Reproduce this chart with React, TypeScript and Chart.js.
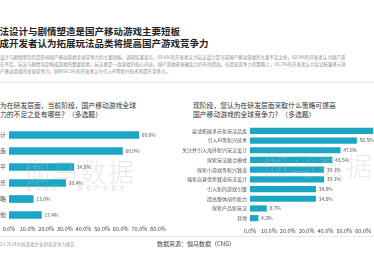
import React, { useEffect, useRef } from "react";
import { Chart, registerables } from "chart.js";

Chart.register(...registerables);

const FONT = "'Noto Sans CJK SC', 'Noto Sans', sans-serif";
const BAR_COLOR = "#1ba6c4";

const leftCategories = ["玩法设计", "剧情塑造", "技术水平", "音效音乐", "运营策略", "其他"];
const leftValues = [69.6, 60.9, 34.8, 30.4, 13.0, 17.4];

const rightCategories = [
  "尝试拓展多元化玩法品类",
  "引入AI等新兴技术",
  "关注并引入海外新兴玩法设计",
  "探索玩法融合模式",
  "探索小游戏等新兴赛道",
  "强化自身优势赛道玩法设计",
  "引入新的游戏引擎",
  "提高整体创作能力",
  "探索产品新玩法",
  "其他",
];
const rightValues = [65.2, 56.5, 47.8, 43.5, 39.1, 39.1, 34.8, 34.8, 8.7, 4.3];

const titleLines = [
  "玩法设计与剧情塑造是国产移动游戏主要短板",
  "六成开发者认为拓展玩法品类将提高国产游戏竞争力",
];
const paraLines = [
  "玩法设计与剧情塑造仍是影响国产移动游戏全球竞争力的主要短板。调研结果显示，69.6%的开发者认为玩法设计是当前国产移动游戏的主要不足之处，60.9%的开发者认为国产游",
  "戏存在不足。玩法与剧情均是构成游戏的重要因素，玩法更是一款游戏的核心内容，国产游戏研发硬实力仍有待提高。在提高竞争力的策略上，65.2%的开发者认为尝试拓展多元化",
  "高国产移动游戏的全球竞争力，同时56.5%的开发者认为引入AI等新兴技术将提升竞争力。",
];
const leftQuestion = ["您认为在研发层面，当前阶段，国产移动游戏全球", "竞争力的不足之处有哪些？（多选题）"];
const rightQuestion = ["现阶段，您认为在研发层面采取什么策略可提高", "国产移动游戏的全球竞争力？（多选题）"];

const valueLabelPlugin = {
  id: "valueLabels",
  afterDatasetsDraw(chart: any) {
    const ctx = chart.ctx;
    const meta = chart.getDatasetMeta(0);
    const data = chart.data.datasets[0].data;
    ctx.save();
    ctx.font = `5px ${FONT}`;
    ctx.fillStyle = "#555";
    ctx.textBaseline = "middle";
    ctx.textAlign = "left";
    meta.data.forEach((el: any, i: number) => {
      ctx.fillText(Number(data[i]).toFixed(1) + "%", el.x + 3, el.y);
    });
    ctx.restore();
  },
};

function makeConfig(
  labels: string[],
  values: number[],
  max: number,
  thickness: number,
  yWidth: number,
  xHeight: number,
  xPad: number,
  yFont: number,
  padRight: number
) {
  return {
    type: "bar" as const,
    data: {
      labels,
      datasets: [{ data: values, backgroundColor: BAR_COLOR, barThickness: thickness }],
    },
    options: {
      indexAxis: "y" as const,
      animation: false as const,
      responsive: false,
      layout: { padding: { left: 0, top: 0, bottom: 0, right: padRight } },
      plugins: { legend: { display: false }, tooltip: { enabled: false } },
      scales: {
        x: {
          min: 0,
          max,
          grid: { display: false, drawTicks: false },
          border: { display: false },
          ticks: {
            stepSize: 10,
            autoSkip: false,
            maxRotation: 0,
            padding: xPad,
            color: "#444",
            font: { size: 5.5, family: FONT },
            callback: (v: any) => Number(v).toFixed(1) + "%",
          },
          afterFit: (s: any) => {
            s.height = xHeight;
            s.paddingLeft = 0;
            s.paddingRight = 0;
          },
        },
        y: {
          grid: { display: false, drawTicks: false },
          border: { display: false },
          ticks: { padding: 3, color: "#555", font: { size: yFont, family: FONT } },
          afterFit: (s: any) => {
            s.width = yWidth;
            s.paddingTop = 0;
            s.paddingBottom = 0;
          },
        },
      },
    },
    plugins: [valueLabelPlugin],
  };
}

export default function App() {
  const leftRef = useRef<HTMLCanvasElement>(null);
  const rightRef = useRef<HTMLCanvasElement>(null);

  useEffect(() => {
    const c1 = new Chart(
      leftRef.current as HTMLCanvasElement,
      makeConfig(leftCategories, leftValues, 80, 7, 60, 12, 3, 6, 8) as any
    );
    const c2 = new Chart(
      rightRef.current as HTMLCanvasElement,
      makeConfig(rightCategories, rightValues, 70, 5.5, 70, 14, 5, 5, 0) as any
    );
    return () => {
      c1.destroy();
      c2.destroy();
    };
  }, []);

  const abs = (style: React.CSSProperties): React.CSSProperties => ({
    position: "absolute",
    whiteSpace: "nowrap",
    lineHeight: 1,
    ...style,
  });

  return (
    <div
      style={{
        position: "fixed",
        left: 0,
        top: 0,
        width: 374,
        height: 260,
        overflow: "hidden",
        background: "#fff",
        fontFamily: FONT,
      }}
    >
      {titleLines.map((t, i) => (
        <div key={"t" + i} style={abs({ left: -10, top: 27 + i * 12, fontSize: 9.5, fontWeight: 700, color: "#222" })}>
          {t}
        </div>
      ))}
      {paraLines.map((t, i) => (
        <div key={"p" + i} style={abs({ left: -9, top: 55 + i * 7, fontSize: 4.5, color: "#8a8a8a" })}>
          {t}
        </div>
      ))}
      <div style={abs({ left: 0, top: 81, width: 374, height: 2, background: "#efefef" })} />
      {leftQuestion.map((t, i) => (
        <div key={"lq" + i} style={abs({ left: -13.6, top: 101.5 + i * 9, fontSize: 6.8, color: "#333" })}>
          {t}
        </div>
      ))}
      {rightQuestion.map((t, i) => (
        <div key={"rq" + i} style={abs({ left: 193, top: 101.5 + i * 9, fontSize: 6.8, color: "#333" })}>
          {t}
        </div>
      ))}
      <canvas ref={leftRef} width={217} height={108} style={{ position: "absolute", left: -51, top: 127 }} />
      <canvas ref={rightRef} width={202} height={111} style={{ position: "absolute", left: 180, top: 126 }} />
      <div style={abs({ left: 24, top: 158, fontSize: 26, fontWeight: 300, color: "rgba(190,190,190,0.35)", letterSpacing: 2 })}>
        伽马数据
      </div>
      <div style={abs({ left: 26, top: 186, fontSize: 5.5, color: "rgba(190,190,190,0.5)", letterSpacing: 3 })}>
        伽马数据 · 游戏产业报告
      </div>
      <div style={abs({ left: 262, top: 152, fontSize: 26, fontWeight: 300, color: "rgba(190,190,190,0.3)", letterSpacing: 2 })}>
        伽马数据
      </div>
      <div style={abs({ left: 0, top: 236, width: 374, height: 1, background: "#e8e8e8" })} />
      <div style={abs({ left: -5, top: 242, fontSize: 4.5, color: "#999" })}>2023-2024中国游戏企业研发竞争力报告</div>
      <div style={abs({ left: 157, top: 241, fontSize: 6, color: "#444" })}>数据来源：伽马数据（CNG）</div>
    </div>
  );
}
